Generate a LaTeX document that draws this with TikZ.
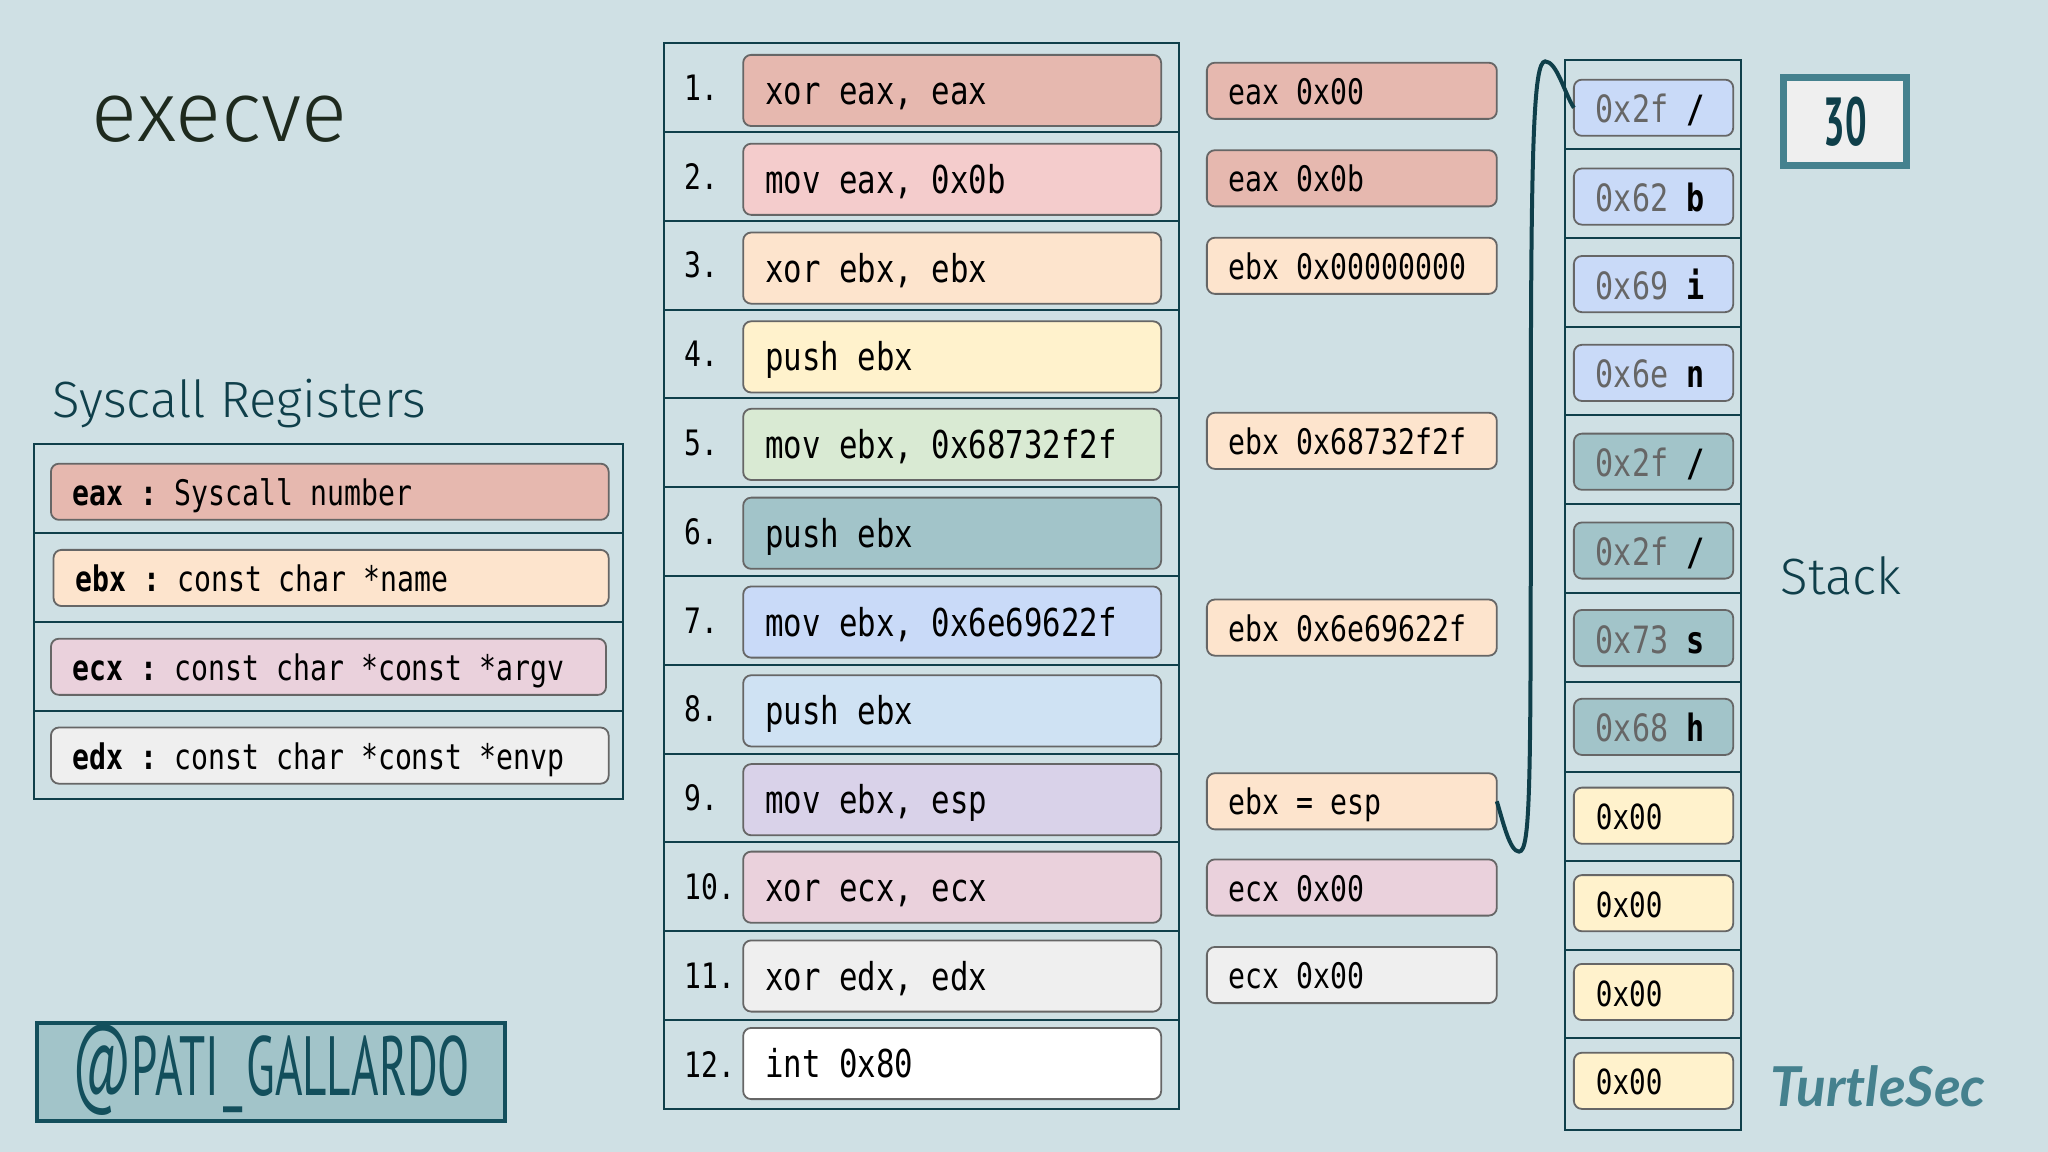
\documentclass[tikz,border=0pt]{standalone}
\usepackage{fontspec}
\usepackage{tikz}
\usetikzlibrary{positioning,calc}

\setmainfont{Fira Sans}
\newfontfamily\lightfont[UprightFont=* Light]{Fira Sans}
\newfontfamily\codefont[FakeStretch=0.8]{DejaVu Sans Mono}
\newfontfamily\handfont[FakeStretch=0.56]{PT Sans}
\newfontfamily\logofont{Lato}
\newcommand{\codesize}[1]{\codefont\fontsize{#1}{22}\selectfont\frenchspacing}

\definecolor{pageBg}{HTML}{CFE0E4}
\definecolor{gridLine}{HTML}{0F3F4A}
\definecolor{boxLine}{HTML}{666666}
\definecolor{titleInk}{HTML}{1E2A1E}
\definecolor{tealDark}{HTML}{134F5C}
\definecolor{tealMid}{HTML}{45818E}
\definecolor{colRed}{HTML}{E6B8AF}
\definecolor{colRose}{HTML}{F4CCCC}
\definecolor{colPeach}{HTML}{FDE4CD}
\definecolor{colYellow}{HTML}{FFF2CC}
\definecolor{colGreen}{HTML}{D9EAD3}
\definecolor{colTeal}{HTML}{A2C4C9}
\definecolor{colBlue}{HTML}{C9DAF8}
\definecolor{colSky}{HTML}{CFE2F3}
\definecolor{colLilac}{HTML}{D9D2E9}
\definecolor{colPink}{HTML}{EAD1DC}
\definecolor{colGray}{HTML}{EFEFEF}

\def\px{0.6531pt}

\tikzset{
    cell/.style={draw=gridLine, line width=1pt, anchor=north west, outer sep=0pt, inner sep=0pt},
    codebox/.style={draw=boxLine, line width=0.9pt, rounded corners=4pt, anchor=north west, outer sep=0pt,
        inner xsep=11pt, inner ysep=0pt, align=flush left, text=black},
    instrbox/.style={codebox, fill=#1, minimum width=320*\px, text width=320*\px-22pt, minimum height=54.5*\px,
        font=\codesize{19.2}, text height=14pt, text depth=0pt},
    regbox/.style={codebox, fill=#1, minimum height=43*\px,
        font=\codesize{17.6}, text height=13.5pt, text depth=0pt},
    slotbox/.style={codebox, fill=#1, minimum width=122*\px, text width=122*\px-22pt, minimum height=43*\px,
        font=\codesize{18.8}, text height=15pt, text depth=0pt},
    numlabel/.style={anchor=west, inner sep=0pt, font=\codesize{17.5}},
    heading/.style={anchor=west, inner sep=0pt, font=\lightfont, text=gridLine}
}

\begin{document}
\begin{tikzpicture}[x=0.6531pt, y=-0.6531pt]
    % Page background
    \fill[pageBg] (0,0) rectangle (1568,882);
    \useasboundingbox (0,0) rectangle (1568,882);

    % Headings
    \node[heading, text=titleInk, font=\lightfont\fontsize{42.7}{50}\selectfont] (title) at (70,91) {execve};
    \node[heading, font=\lightfont\fontsize{25.5}{30}\selectfont] (regTitle) at (40,309) {Syscall Registers};
    \node[heading, font=\lightfont\fontsize{25.5}{30}\selectfont] (stackTitle) at (1363,441) {Stack};

    % Syscall register table
    \foreach \i/\y/\by/\x/\w/\col/\reg/\txt in {
        1/340/355/39/427/colRed/eax/{Syscall number},
        2/408/421/41/425/colPeach/ebx/{const char *name},
        3/476/489/39/425/colPink/ecx/{const char *const *argv},
        4/544/557/39/427/colGray/edx/{const char *const *envp}}{
        \node[cell, minimum width=451*\px, minimum height=68*\px] (regRow\i) at (26,\y) {};
        \node[regbox=\col, minimum width=\w*\px, text width=\w*\px-22pt] (reg\i) at (\x,\by) {\textbf{\reg} \textbf{:} \txt};
    }

    % Instruction table
    \foreach \i/\y/\by/\col/\txt in {
        1/33/42/colRed/{xor eax, eax},
        2/101/110/colRose/{mov eax, 0x0b},
        3/169/178/colPeach/{xor ebx, ebx},
        4/237/246/colYellow/{push ebx},
        5/305/313/colGreen/{mov ebx, 0x68732f2f},
        6/373/381/colTeal/{push ebx},
        7/441/449/colBlue/{mov ebx, 0x6e69622f},
        8/509/517/colSky/{push ebx},
        9/577/585/colLilac/{mov ebx, esp},
        10/645/652/colPink/{xor ecx, ecx},
        11/713/720/colGray/{xor edx, edx},
        12/781/787/white/{int 0x80}}{
        \node[cell, minimum width=395*\px, minimum height=68*\px] (row\i) at (508,\y) {};
        \node[numlabel] (num\i) at (524,\y+34) {\i.};
        \node[instrbox=\col] (instr\i) at (569,\by) {\txt};
    }

    % Register values next to the instructions
    \foreach \n/\y/\col/\txt in {
        a/48/colRed/{eax 0x00},
        b/115/colRed/{eax 0x0b},
        c/182/colPeach/{ebx 0x00000000},
        d/316/colPeach/{ebx 0x68732f2f},
        e/459/colPeach/{ebx 0x6e69622f},
        f/592/colPeach/{ebx = esp},
        g/658/colPink/{ecx 0x00},
        h/725/colGray/{ecx 0x00}}{
        \node[regbox=\col, minimum width=222*\px, text width=222*\px-22pt] (val\n) at (924,\y) {\txt};
    }

    % Stack
    \foreach \i/\y/\h in {1/46/68, 2/114/68, 3/182/68, 4/250/68, 5/318/68, 6/386/68, 7/454/68, 8/522/69,
        9/591/68, 10/659/68, 11/727/68, 12/795/70}{
        \node[cell, minimum width=135*\px, minimum height=\h*\px] (slotRow\i) at (1198,\y) {};
    }
    \foreach \i/\y/\col/\hex/\ch in {
        1/61/colBlue/0x2f/{/},
        2/129/colBlue/0x62/b,
        3/196/colBlue/0x69/i,
        4/264/colBlue/0x6e/n,
        5/332/colTeal/0x2f/{/},
        6/400/colTeal/0x2f/{/},
        7/467/colTeal/0x73/s,
        8/535/colTeal/0x68/h}{
        \node[slotbox=\col] (slot\i) at (1205,\y) {\textcolor{boxLine}{\hex} \textbf{\ch}};
    }
    \foreach \i/\y in {9/603, 10/670, 11/738, 12/806}{
        \node[slotbox=colYellow, font=\codesize{17.3}, text height=14pt] (slot\i) at (1205,\y) {0x00};
    }

    % Stack pointer curve
    \draw[gridLine, line width=2pt]
        (valf.east) .. controls (1151,630) and (1156,652) .. (1163,652)
        .. controls (1172,652) and (1172,600) .. (1172,350)
        .. controls (1172,110) and (1174,47) .. (1183,47)
        .. controls (1192,47) and (1198,72) .. (slot1.west);

    % Counter box
    \node[draw=tealMid, fill=colGray, line width=3.5pt, anchor=north west, minimum width=94*\px, minimum height=67*\px,
        inner sep=0pt, text=gridLine, font=\handfont\bfseries\fontsize{34}{36}\selectfont] (counter) at (1363,57) {30};

    % Handle and logo
    \node[draw=tealDark, fill=colTeal, line width=2pt, anchor=north west, minimum width=358*\px, minimum height=75*\px,
        inner sep=0pt, text height=24pt, text depth=1pt, text=tealDark, font=\handfont\fontsize{42}{50}\selectfont]
        (handle) at (27,782) {{\fontsize{50}{50}\selectfont @}PATI\hspace{2pt}\_\hspace{2pt}GALLARDO};
    \node[anchor=west, inner sep=0pt, text=tealMid, font=\logofont\bfseries\itshape\fontsize{27.5}{30}\selectfont] (logo) at (1355,832) {TurtleSec};
\end{tikzpicture}
\end{document}
